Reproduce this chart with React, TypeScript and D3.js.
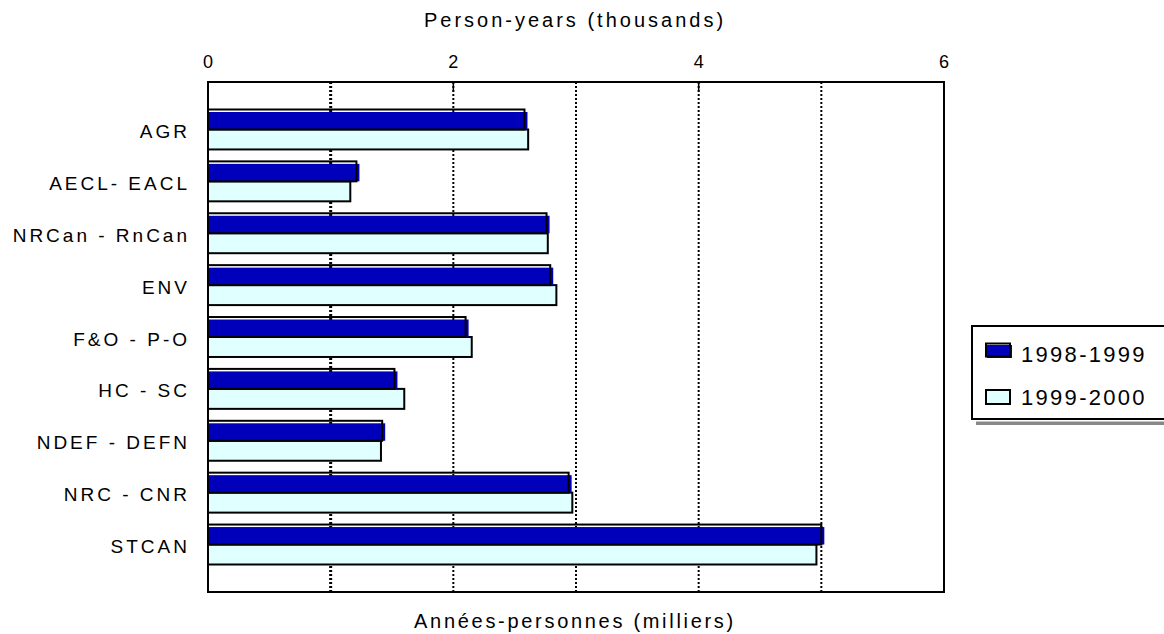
import React from "react";
import * as d3 from "d3";

const categories = ["AGR", "AECL- EACL", "NRCan - RnCan", "ENV", "F&O - P-O", "HC - SC", "NDEF - DEFN", "NRC - CNR", "STCAN"];
const series1998 = [2.58, 1.21, 2.76, 2.79, 2.10, 1.52, 1.42, 2.94, 5.00];
const series1999 = [2.61, 1.16, 2.77, 2.84, 2.15, 1.60, 1.41, 2.97, 4.96];
const seriesNames = ["1998-1999", "1999-2000"];
const xTicks = [0, 2, 4, 6];
const gridValues = [1, 2, 3, 4, 5];

const W = 1164;
const H = 634;
const left = 208, right = 944, top = 82, bottom = 592;
const FONT = "'Liberation Sans', Arial, sans-serif";
const DARK = "#0000bb";
const LIGHT = "#e0ffff";

export default function App() {
  const x = d3.scaleLinear().domain([0, 6]).range([left, right]);
  const y = d3.scaleBand<string>().domain(categories).range([top, bottom]).paddingInner(0.23).paddingOuter(0.53);
  const bh = y.bandwidth() / 2;

  return (
    <svg width={W} height={H} style={{ position: "absolute", left: 0, top: 0, background: "#fff" }} fontFamily={FONT}>
      <rect x={0} y={0} width={W} height={H} fill="#fff" />
      {/* grid */}
      {gridValues.map((v) => (
        <line key={v} x1={x(v)} x2={x(v)} y1={top} y2={bottom} stroke="#000" strokeWidth={v === 1 ? 3 : 2} strokeDasharray="2,2" />
      ))}
      {/* small ticks at top */}
      {[2, 4].map((v) => (
        <line key={"t" + v} x1={x(v)} x2={x(v)} y1={top} y2={top + 10} stroke="#000" strokeWidth={1.5} />
      ))}
      {/* bars */}
      {categories.map((c, i) => {
        const y0 = y(c)!;
        const w1 = x(series1998[i]) - x(0);
        const w2 = x(series1999[i]) - x(0);
        return (
          <g key={c}>
            <rect x={x(0)} y={y0 + bh} width={w2} height={bh} fill={LIGHT} stroke="#000" strokeWidth={2} />
            <rect x={x(0) + 1} y={y0 + 2.5} width={w1 + 2} height={bh - 2.5} fill={DARK} />
            <rect x={x(0)} y={y0} width={w1} height={bh} fill="none" stroke="#000" strokeWidth={2} />
          </g>
        );
      })}
      {/* frame */}
      <rect x={left} y={top} width={right - left} height={bottom - top} fill="none" stroke="#000" strokeWidth={2} />
      {/* category labels */}
      {categories.map((c) => (
        <text key={"l" + c} x={190} y={y(c)! + y.bandwidth() / 2 + 8.5} textAnchor="end" fontSize={19} letterSpacing={3} fill="#000">
          {c}
        </text>
      ))}
      {/* tick labels */}
      {xTicks.map((v) => (
        <text key={"x" + v} x={x(v)} y={68} textAnchor="middle" fontSize={18} fill="#000">
          {v}
        </text>
      ))}
      {/* titles */}
      <text x={575} y={27} textAnchor="middle" fontSize={20} letterSpacing={3} fill="#000">Person-years (thousands)</text>
      <text x={575} y={628} textAnchor="middle" fontSize={20} letterSpacing={2.7} fill="#000">Années-personnes (milliers)</text>
      {/* legend */}
      <rect x={976} y={421.5} width={200} height={3.5} fill="#888" />
      <rect x={972} y={326} width={200} height={93} fill="#fff" stroke="#000" strokeWidth={2} />
      <rect x={987} y={345} width={25} height={13} fill={DARK} />
      <rect x={986} y={343.5} width={24} height={13} fill="none" stroke="#000" strokeWidth={2} />
      <rect x={986} y={390} width={24} height={14} fill={LIGHT} stroke="#000" strokeWidth={2} />
      <text x={1021} y={362} fontSize={22} letterSpacing={2.3} fill="#000">{seriesNames[0]}</text>
      <text x={1021} y={405} fontSize={22} letterSpacing={2.3} fill="#000">{seriesNames[1]}</text>
    </svg>
  );
}
